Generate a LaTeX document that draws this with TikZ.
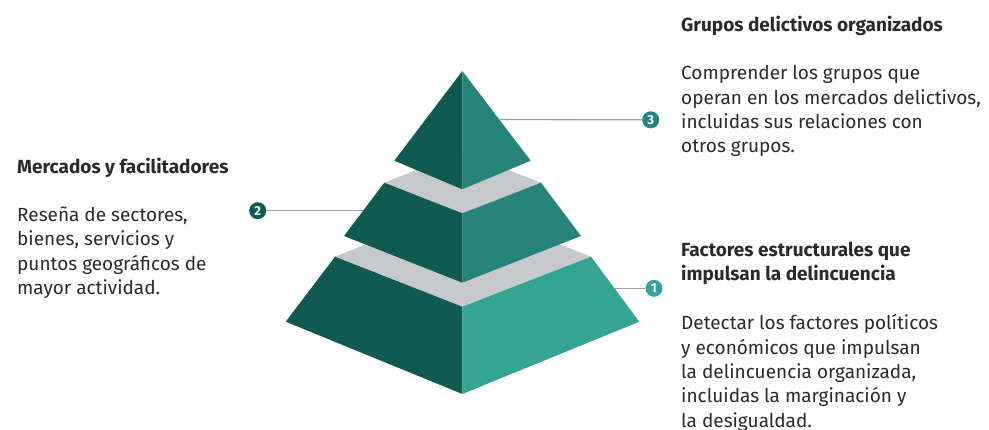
\documentclass[tikz,border=0pt]{standalone}
\usepackage{fontspec}
\setmainfont{Fira Sans}
\begin{document}
\definecolor{tealdark}{HTML}{115A52}
\definecolor{tealmid}{HTML}{26847A}
\definecolor{teallight}{HTML}{35A593}
\definecolor{bandgray}{HTML}{C8C9CB}
\definecolor{leadgray}{HTML}{A0A0A0}
\definecolor{inkgray}{HTML}{2A2A2A}
% a block of lines whose baseline is that of its first line
\newcommand{\firstline}[1]{\parbox[t]{310pt}{\raggedright #1}}
\begin{tikzpicture}[x=1pt,y=-1pt,
  leader/.style={draw=leadgray,line width=1.3pt},
  badge/.style={circle,inner sep=0pt,minimum size=17pt,text=white,
    font=\fontsize{13}{13}\selectfont\bfseries},
  heading/.style={anchor=base west,inner sep=0pt,text=inkgray,
    font=\fontsize{19}{24.3}\selectfont\bfseries},
  body/.style={anchor=base west,inner sep=0pt,text=inkgray,
    font=\fontsize{19}{24.3}\selectfont}]
\useasboundingbox (0,0) rectangle (989,430);

% bottom tier: gray top face, then the two front faces
\fill[bandgray] (335,256.7) -- (462.3,206) -- (591,256.7) -- (462.3,306.7) -- cycle;
\fill[tealdark] (335,256.7) -- (462.3,306.7) -- (462.3,394) -- (285.7,321.7) -- cycle;
\fill[teallight] (462.3,306.7) -- (591,256.7) -- (639.3,321.7) -- (462.3,394) -- cycle;

% middle tier
\fill[bandgray] (384.3,182.7) -- (462.3,152) -- (541,182.7) -- (462.3,213.3) -- cycle;
\fill[tealdark] (384.3,182.7) -- (462.3,213.3) -- (462.3,282.7) -- (344,236) -- cycle;
\fill[tealmid] (462.3,213.3) -- (541,182.7) -- (581,236) -- (462.3,282.7) -- cycle;

% top tier
\fill[tealdark] (462.3,71) -- (462.3,189.3) -- (394.3,160.7) -- cycle;
\fill[tealmid] (462.3,71) -- (530.7,160.7) -- (462.3,189.3) -- cycle;

% leader end points on the tier edges
\coordinate (e3) at (499.3,119.5);
\coordinate (e2) at (363.1,210.7);
\coordinate (e1) at (614.3,288.3);

% numbered badges
\node[badge,fill=tealmid] (b3) at (650.7,119.8) {3};
\node[badge,fill=tealdark] (b2) at (257.7,210.7) {2};
\node[badge,fill=teallight] (b1) at (654,288.3) {1};

\draw[leader] (e3) -- (b3);
\draw[leader] (b2) -- (e2);
\draw[leader] (e1) -- (b1);

% texts
\node[heading] (h3) at (681,31.7) {\firstline{Grupos delictivos organizados}};
\node[body] (t3) at (681,80) {\firstline{Comprender los grupos que\\operan en los mercados delictivos,\\incluidas sus relaciones con\\otros grupos.}};

\node[heading] (h2) at (17,173.3) {\firstline{Mercados y facilitadores}};
\node[body] (t2) at (17,221.7) {\firstline{Reseña de sectores,\\bienes, servicios y\\puntos geográficos de\\mayor actividad.}};

\node[heading] (h1) at (681,256.7) {\firstline{Factores estructurales que\\impulsan la delincuencia}};
\node[body] (t1) at (681,330) {\firstline{Detectar los factores políticos\\y económicos que impulsan\\la delincuencia organizada,\\incluidas la marginación y\\la desigualdad.}};
\end{tikzpicture}
\end{document}
